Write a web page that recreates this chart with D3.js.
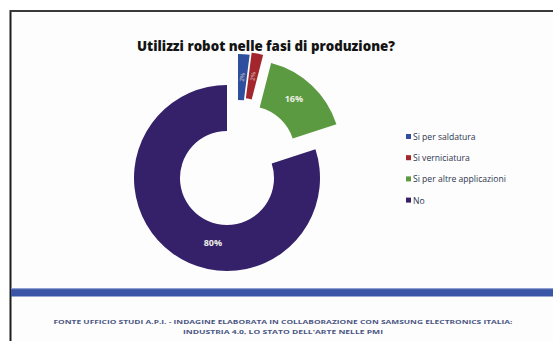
<!DOCTYPE html>
<html>
<head>
<meta charset="utf-8">
<script src="https://cdn.jsdelivr.net/npm/d3@7"></script>
<style>
  html, body { margin: 0; padding: 0; background: #ffffff; }
  svg { display: block; }
</style>
</head>
<body>
<svg id="chart" width="553" height="341"></svg>
<script>
// Survey answers: "Do you use robots in production phases?"
const categories = ["Si per saldatura", "Si verniciatura", "Si per altre applicazioni", "No"];
const values = [2, 2, 16, 80];
const valueLabels = ["2%", "2%", "16%", "80%"];
const titleText = "Utilizzi robot nelle fasi di produzione?";
const sourceLines = [
  "FONTE UFFICIO STUDI A.P.I. - INDAGINE ELABORATA IN COLLABORAZIONE CON SAMSUNG ELECTRONICS ITALIA:",
  "INDUSTRIA 4.0, LO STATO DELL'ARTE NELLE PMI"
];

// Styling
const colors = ["#2f4f9e", "#a2262b", "#5c9a41", "#35206a"];
const explode = [[11, -31], [13, -33], [21, -25], [0, 0]];
const labelShift = [[0, 0], [0, 0], [-2, -3], [27, 8]];
const W = 553, H = 341;
const cx = 227, cy = 178, rOuter = 93, rInner = 47;

const svg = d3.select("#chart");

// page background and frame
svg.append("rect").attr("width", W).attr("height", H).attr("fill", "#ffffff");
svg.append("rect").attr("x", 11).attr("y", 11).attr("width", W).attr("height", H)
  .attr("fill", "#fdfdfd");
svg.append("line").attr("x1", 10.5).attr("x2", 10.5).attr("y1", 10).attr("y2", H)
  .attr("stroke", "#1e1e1e").attr("stroke-width", 2);
svg.append("line").attr("x1", 10).attr("x2", W).attr("y1", 11).attr("y2", 11)
  .attr("stroke", "#3a3a3a").attr("stroke-width", 2);

// title
svg.append("text")
  .attr("x", 137).attr("y", 51)
  .attr("textLength", 258).attr("lengthAdjust", "spacingAndGlyphs")
  .attr("font-family", "'Open Sans', sans-serif")
  .attr("font-weight", 800).attr("font-size", 13.5)
  .attr("fill", "#141414")
  .text(titleText);

// donut
const pie = d3.pie().sort(null).startAngle(0).endAngle(2 * Math.PI);
const arcs = pie(values);
const arc = d3.arc().innerRadius(rInner).outerRadius(rOuter);

const g = svg.append("g").attr("transform", `translate(${cx},${cy})`);
const slices = g.selectAll("g.slice").data(arcs).join("g")
  .attr("class", "slice")
  .attr("transform", (d, i) => `translate(${explode[i][0]},${explode[i][1]})`);

slices.append("path")
  .attr("d", arc)
  .attr("fill", (d, i) => colors[i]);

// value labels
slices.append("text")
  .attr("transform", (d, i) => {
    const [x, y] = arc.centroid(d);
    const px = x + labelShift[i][0], py = y + labelShift[i][1];
    return i < 2 ? `translate(${px},${py}) rotate(-82)` : `translate(${px},${py})`;
  })
  .attr("text-anchor", "middle")
  .attr("dominant-baseline", "central")
  .attr("font-family", "'Open Sans', sans-serif")
  .attr("font-weight", "bold")
  .attr("font-size", (d, i) => i < 2 ? 6 : 9)
  .attr("fill", (d, i) => i < 2 ? "#d9c4c4" : "#eef0e8")
  .attr("opacity", (d, i) => i < 2 ? 0.7 : 1)
  .text((d, i) => valueLabels[i]);

// legend
const legend = svg.append("g").attr("transform", "translate(406,137)");
const rows = legend.selectAll("g").data(categories).join("g")
  .attr("transform", (d, i) => `translate(0,${i * 21.2})`);
rows.append("rect")
  .attr("x", 0).attr("y", -3).attr("width", 5).attr("height", 5)
  .attr("fill", (d, i) => colors[i]);
rows.append("text")
  .attr("x", 7).attr("y", 0)
  .attr("dominant-baseline", "central")
  .attr("font-family", "'Open Sans', sans-serif")
  .attr("font-size", 8.6)
  .attr("fill", "#2f3550")
  .text(d => d);

// footer band
svg.append("rect").attr("x", 11).attr("y", 289).attr("width", W - 11).attr("height", 7.5)
  .attr("fill", "#3b55a6");
svg.append("rect").attr("x", 11).attr("y", 288).attr("width", W - 11).attr("height", 1.2)
  .attr("fill", "#8e9fd2");

// source note
const srcWidths = [459, 200];
svg.selectAll("text.src").data(sourceLines).join("text")
  .attr("class", "src")
  .attr("x", 283)
  .attr("y", (d, i) => 324 + i * 10)
  .attr("text-anchor", "middle")
  .attr("textLength", (d, i) => srcWidths[i])
  .attr("lengthAdjust", "spacingAndGlyphs")
  .attr("font-family", "'Open Sans', sans-serif")
  .attr("font-weight", "bold")
  .attr("font-size", 5.6)
  .attr("fill", "#4a5682")
  .text(d => d);
</script>
</body>
</html>
